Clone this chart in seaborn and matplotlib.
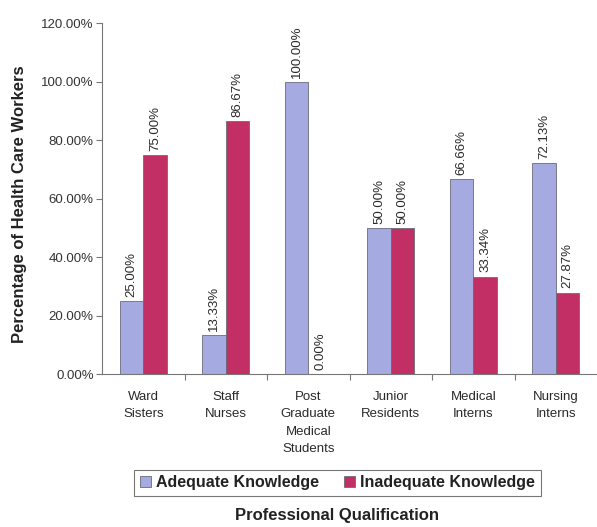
import matplotlib
matplotlib.use("Agg")
import matplotlib.pyplot as plt
import seaborn as sns
import pandas as pd
from matplotlib.ticker import FixedLocator, FuncFormatter

categories = ["Ward\nSisters", "Staff\nNurses", "Post\nGraduate\nMedical\nStudents",
              "Junior\nResidents", "Medical\nInterns", "Nursing\nInterns"]
adequate = [25.00, 13.33, 100.00, 50.00, 66.66, 72.13]
inadequate = [75.00, 86.67, 0.00, 50.00, 33.34, 27.87]
series = ["Adequate Knowledge", "Inadequate Knowledge"]
y_ticks = [0, 20, 40, 60, 80, 100, 120]

df = pd.DataFrame({
    "Qualification": categories * 2,
    "Knowledge": [series[0]] * len(categories) + [series[1]] * len(categories),
    "Percent": adequate + inadequate,
})

sns.set_theme(style="white")
plt.rcParams["font.family"] = ["Liberation Sans", "DejaVu Sans"]

fig = plt.figure(figsize=(5.97, 5.27), dpi=100)
ax = fig.add_axes([0.171, 0.290, 0.829, 0.666])

palette = {series[0]: "#a5aae0", series[1]: "#c22f65"}
sns.barplot(data=df, x="Qualification", y="Percent", hue="Knowledge",
            palette=palette, width=0.57, edgecolor="#6a6a7a", linewidth=0.6,
            saturation=1, ax=ax, legend=True)

for cont in ax.containers:
    ax.bar_label(cont, labels=[f"{v:.2f}%" for v in cont.datavalues],
                 rotation=90, padding=3, fontsize=9.5, color="#2a2a2a")

ax.set_ylim(0, 120)
ax.set_xlim(-0.5, len(categories) - 0.5)
ax.yaxis.set_major_locator(FixedLocator(y_ticks))
ax.yaxis.set_major_formatter(FuncFormatter(lambda v, p: f"{v:.2f}%"))
ax.tick_params(axis="y", which="major", left=True, length=4, width=0.8,
               color="#777777", labelsize=9.5, labelcolor="#333333", pad=2)
ax.tick_params(axis="x", which="major", bottom=False, labelsize=9.5,
               labelcolor="#2a2a2a", pad=6)
for lbl in ax.get_xticklabels():
    lbl.set_linespacing(1.6)
ax.set_xticks([i + 0.5 for i in range(len(categories) - 1)], minor=True)
ax.tick_params(axis="x", which="minor", bottom=True, length=4, width=0.8,
               color="#777777", direction="out")

for s in ["top", "right"]:
    ax.spines[s].set_visible(False)
for s in ["left", "bottom"]:
    ax.spines[s].set_color("#777777")
    ax.spines[s].set_linewidth(0.8)

ax.set_ylabel("")
ax.set_xlabel("")
fig.text(0.032, 0.612, "Percentage of Health Care Workers", rotation=90,
         ha="center", va="center", fontsize=12, fontweight="bold",
         color="#222222")
fig.text(0.565, 0.021, "Professional Qualification", ha="center", va="center",
         fontsize=12, fontweight="bold", color="#222222")

leg = ax.legend(loc="center", bbox_to_anchor=(0.565, 0.084),
                bbox_transform=fig.transFigure, ncol=2, frameon=True,
                fancybox=False, edgecolor="#555555", fontsize=11.5,
                handlelength=0.7, handleheight=0.7, handletextpad=0.3,
                columnspacing=1.6, borderpad=0.35)
leg.get_frame().set_linewidth(0.8)
for t in leg.get_texts():
    t.set_fontweight("bold")
    t.set_color("#222222")

fig.savefig("out.png", dpi=100)
